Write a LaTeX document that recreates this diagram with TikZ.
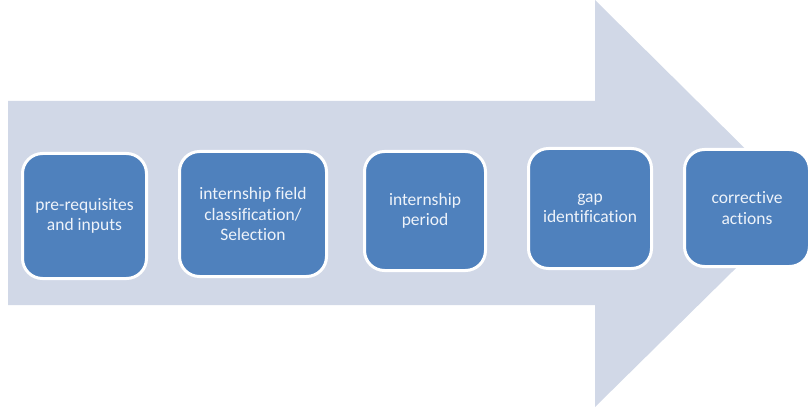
\documentclass[tikz,border=0pt]{standalone}
\usepackage{fontspec}
\setmainfont[Ligatures=NoCommon]{Carlito}
\definecolor{arrowfill}{HTML}{D1D8E7}
\definecolor{boxfill}{HTML}{4F81BD}
\definecolor{boxtext}{HTML}{EEF3FA}
\begin{document}
\begin{tikzpicture}[x=1pt,y=-1pt,
  stepbox/.style={draw=white, line width=3pt, fill=boxfill, rounded corners=20pt,
    text=boxtext, align=center, inner sep=2pt,
    font=\fontsize{17.5pt}{20.5pt}\selectfont},
  bigarrow/.style={fill=arrowfill, draw=none}]
\useasboundingbox (0,0) rectangle (812,409);
\fill[bigarrow] (8,101) -- (595,101) -- (595,0) -- (801,204) -- (595,407) -- (595,305) -- (8,305) -- cycle;
\node[stepbox, minimum width=124pt, minimum height=125pt] (s1) at (84.5,216) {pre-requisites\\and inputs};
\node[stepbox, minimum width=147pt, minimum height=125pt] (s2) at (253,214) {internship field\\classification/\\Selection};
\node[stepbox, minimum width=121pt, minimum height=119pt] (s3) at (425,211) {internship\\period};
\node[stepbox, minimum width=123pt, minimum height=120pt] (s4) at (590,208.5) {gap\\identification};
\node[stepbox, minimum width=125pt, minimum height=117pt] (s5) at (747,208) {corrective\\actions};
\end{tikzpicture}
\end{document}
